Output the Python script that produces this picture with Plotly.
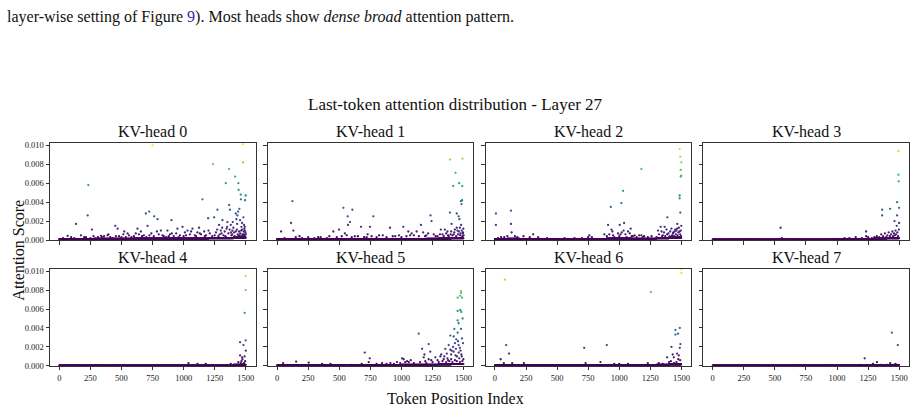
import plotly.graph_objects as go

# ---------------- data ----------------
heads = ["KV-head 0", "KV-head 1", "KV-head 2", "KV-head 3",
         "KV-head 4", "KV-head 5", "KV-head 6", "KV-head 7"]
x_ticks = [0, 250, 500, 750, 1000, 1250, 1500]
y_ticks = [0.000, 0.002, 0.004, 0.006, 0.008, 0.010]
seq_len = 1500
seg_size = 100

# estimated height of the dense near-zero band, one value per 100-token segment
band_h0 = [0.0001, 0.0001, 0.0001, 0.00012, 0.00012, 0.00012, 0.00015, 0.00015, 0.00015, 0.00015, 0.00015, 0.00015, 0.0002, 0.0002, 0.00025]
band_h1 = [0.0001, 0.0001, 0.0001, 0.0001, 0.0001, 0.0001, 0.0001, 0.0001, 0.0001, 0.0001, 0.0001, 0.0001, 0.00012, 0.00015, 0.0002]
band_h2 = [0.0001, 0.00012, 0.0001, 0.0001, 0.0001, 0.0001, 0.0001, 0.0001, 0.0001, 0.00015, 0.00015, 0.00012, 0.00012, 0.0002, 0.00025]
band_h3 = [0.00005, 0.00005, 0.00005, 0.00005, 0.00005, 0.00005, 0.00005, 0.00005, 0.00005, 0.00005, 0.00007, 0.0001, 0.0001, 0.00015, 0.0002]
band_h4 = [0.00003, 0.00003, 0.00003, 0.00003, 0.00003, 0.00003, 0.00003, 0.00003, 0.00003, 0.00003, 0.00003, 0.00003, 0.00003, 0.00003, 0.0001]
band_h5 = [0.00005, 0.00005, 0.00005, 0.00005, 0.00005, 0.00005, 0.00005, 0.00005, 0.00005, 0.00008, 0.0001, 0.0001, 0.00012, 0.00015, 0.0002]
band_h6 = [0.00005, 0.00005, 0.00005, 0.00005, 0.00005, 0.00005, 0.00005, 0.00005, 0.00005, 0.00005, 0.00005, 0.00005, 0.00005, 0.0001, 0.00015]
band_h7 = [0.00003, 0.00003, 0.00003, 0.00003, 0.00003, 0.00003, 0.00003, 0.00003, 0.00003, 0.00003, 0.00003, 0.00003, 0.00003, 0.00003, 0.00008]

# individually visible points: token positions and attention scores
h0_tok = [750, 233, 228, 134, 262, 67, 174, 450, 469, 522, 549, 335, 388, 629, 656, 696, 723, 763, 790, 710, 817, 870, 902, 950, 991, 1031, 1071, 1124, 1151, 1165, 1197, 1245, 1237, 1272, 1285, 1299, 1312, 1339, 1352, 1366, 1366, 1373, 1379, 1392, 1414, 1419, 1424, 1432, 1438, 1440, 1442, 1448, 1454, 1459, 1461, 1465, 1478, 1476, 1481, 1486, 1494, 1492, 1499, 1497,
          30, 95, 120, 150, 200, 290, 310, 360, 410, 430, 480, 500, 560, 580, 600, 640, 680, 700, 740, 760, 800, 840, 860, 890, 920, 940, 970, 1000, 1010, 1050, 1090, 1110, 1140, 1180, 1210, 1230, 1260, 1290, 1320, 1330, 1345, 1360, 1385, 1400, 1405, 1410, 1428, 1435, 1445, 1450, 1470, 1473, 1478, 1483, 1488, 1490, 1495, 1500, 1470, 1430, 1395, 1350, 1310,
          215, 250, 275, 345, 395, 455, 515, 535, 615, 665, 725, 785, 830, 880, 905, 960, 1020, 1060, 1100, 1130, 1170, 1200, 1250, 1280, 1305, 1335, 1370, 1390, 1420, 1440, 1455, 1462, 1468, 1485, 1493, 1380, 1340, 1270]
h0_val = [0.0100, 0.0058, 0.0026, 0.0017, 0.0011, 0.00045, 0.0005, 0.0015, 0.0012, 0.0009, 0.0007, 0.00045, 0.0005, 0.0012, 0.0009, 0.0028, 0.0030, 0.0025, 0.0022, 0.0015, 0.0010, 0.0010, 0.0021, 0.0012, 0.0014, 0.0010, 0.0012, 0.0013, 0.0043, 0.0009, 0.0023, 0.0024, 0.0080, 0.0032, 0.0016, 0.0010, 0.0021, 0.0060, 0.0019, 0.0075, 0.0037, 0.0032, 0.0016, 0.0010, 0.0067, 0.0028, 0.0022, 0.0026, 0.0030, 0.0060, 0.0053, 0.0033, 0.0021, 0.0048, 0.0043, 0.0014, 0.0082, 0.0101, 0.0024, 0.0016, 0.0042, 0.0014, 0.0047, 0.0008,
          0.0002, 0.0003, 0.0002, 0.0001, 0.0003, 0.0002, 0.0003, 0.0004, 0.0003, 0.0002, 0.0004, 0.0003, 0.0005, 0.0003, 0.0004, 0.0006, 0.0005, 0.0003, 0.0007, 0.0004, 0.0006, 0.0004, 0.0003, 0.0006, 0.0004, 0.0007, 0.0005, 0.0004, 0.0008, 0.0006, 0.0005, 0.0008, 0.0006, 0.0005, 0.0007, 0.0004, 0.0008, 0.0006, 0.0005, 0.0009, 0.0012, 0.0007, 0.0005, 0.0013, 0.0008, 0.0004, 0.0011, 0.0006, 0.0009, 0.0005, 0.0011, 0.0006, 0.0004, 0.0009, 0.0012, 0.0005, 0.0003, 0.0006, 0.0018, 0.0017, 0.0019, 0.0014, 0.0013,
          0.0003, 0.0002, 0.0004, 0.0003, 0.0006, 0.0004, 0.0006, 0.0003, 0.0007, 0.0004, 0.0005, 0.0009, 0.0005, 0.0004, 0.0007, 0.0003, 0.0005, 0.0009, 0.0004, 0.0007, 0.0004, 0.0010, 0.0005, 0.0004, 0.0007, 0.0004, 0.0011, 0.0006, 0.0009, 0.0004, 0.0007, 0.0010, 0.0004, 0.0006, 0.0010, 0.0008, 0.0003, 0.0011]

h1_tok = [123, 112, 131, 32, 533, 568, 605, 570, 586, 675, 747, 774, 452, 498, 560, 728, 908, 1015, 1055, 1082, 1122, 1157, 1175, 1234, 1242, 1317, 1349, 1390, 1491, 1435, 1416, 1464, 1489, 1390, 1478, 1488, 1483, 1445, 1460, 1466, 1480, 1403, 1430, 1420, 1470, 1495, 1375,
          60, 150, 200, 250, 300, 350, 400, 480, 520, 600, 650, 700, 760, 800, 850, 880, 950, 980, 1040, 1100, 1140, 1200, 1260, 1290, 1330, 1360, 1380, 1400, 1410, 1425, 1440, 1450, 1455, 1475, 1485, 1490, 1498, 1500,
          180, 330, 420, 545, 625, 720, 820, 930, 1000, 1070, 1190, 1215, 1275, 1310, 1340, 1370, 1395, 1445, 1462, 1472, 1493]
h1_val = [0.0041, 0.0018, 0.0010, 0.0009, 0.0034, 0.0025, 0.0032, 0.0016, 0.0019, 0.0014, 0.0014, 0.0025, 0.0009, 0.0011, 0.0005, 0.0006, 0.0013, 0.0014, 0.0009, 0.0007, 0.0009, 0.0016, 0.0008, 0.0026, 0.0020, 0.0011, 0.0011, 0.0085, 0.0086, 0.0071, 0.0057, 0.0060, 0.0057, 0.0029, 0.0041, 0.0042, 0.0038, 0.0028, 0.0025, 0.0022, 0.0016, 0.0017, 0.0011, 0.0006, 0.0013, 0.0008, 0.0005,
          0.0002, 0.0003, 0.0002, 0.0003, 0.0002, 0.0003, 0.0002, 0.0003, 0.0004, 0.0003, 0.0004, 0.0003, 0.0004, 0.0003, 0.0005, 0.0003, 0.0004, 0.0005, 0.0004, 0.0005, 0.0004, 0.0005, 0.0006, 0.0004, 0.0006, 0.0007, 0.0004, 0.0009, 0.0005, 0.0008, 0.0004, 0.0010, 0.0006, 0.0007, 0.0010, 0.0004, 0.0012, 0.0005,
          0.0004, 0.0003, 0.0004, 0.0007, 0.0004, 0.0003, 0.0005, 0.0004, 0.0003, 0.0005, 0.0004, 0.0007, 0.0004, 0.0006, 0.0004, 0.0009, 0.0006, 0.0013, 0.0009, 0.0005, 0.0007]

h2_tok = [8, 8, 129, 129, 134, 50, 100, 180, 230, 308, 348, 420, 560, 750, 760, 880, 910, 937, 932, 1017, 1031, 1004, 1039, 1071, 1092, 1124, 1178, 1178, 1312, 1333, 1365, 1387, 1446, 1467, 1486, 1491, 1499, 1494, 1494, 1499, 1486, 1486, 1491, 1499,
          900, 920, 950, 960, 990, 1000, 1020, 1050, 1060, 1100, 1140, 1160, 1200, 1230, 1260, 1300, 1320, 1340, 1350, 1360, 1370, 1380, 1395, 1405, 1410, 1420, 1425, 1435, 1440, 1450, 1455, 1460, 1470, 1475, 1480, 1490, 1495, 1497,
          25, 75, 160, 280, 640, 700, 780, 945, 1010, 1035, 1085, 1110, 1190, 1345, 1385, 1432, 1465, 1485]
h2_val = [0.0028, 0.0016, 0.0031, 0.0017, 0.0008, 0.0003, 0.0004, 0.0003, 0.0004, 0.0006, 0.0003, 0.0002, 0.0002, 0.0003, 0.0005, 0.0006, 0.0016, 0.0011, 0.0035, 0.0039, 0.0052, 0.0016, 0.0018, 0.0009, 0.0012, 0.0005, 0.0075, 0.0005, 0.0010, 0.0014, 0.0014, 0.0024, 0.0009, 0.0017, 0.0096, 0.0088, 0.0082, 0.0074, 0.0067, 0.0068, 0.0047, 0.0044, 0.0029, 0.0015,
          0.0004, 0.0006, 0.0005, 0.0003, 0.0007, 0.0004, 0.0008, 0.0006, 0.0003, 0.0004, 0.0003, 0.0005, 0.0004, 0.0003, 0.0004, 0.0003, 0.0006, 0.0009, 0.0005, 0.0008, 0.0004, 0.0011, 0.0007, 0.0004, 0.0009, 0.0012, 0.0005, 0.0008, 0.0004, 0.0011, 0.0006, 0.0010, 0.0005, 0.0008, 0.0013, 0.0006, 0.0010, 0.0004,
          0.0002, 0.0003, 0.0004, 0.0003, 0.0002, 0.0002, 0.0003, 0.0009, 0.0006, 0.0010, 0.0007, 0.0004, 0.0003, 0.0004, 0.0006, 0.0007, 0.0012, 0.0009]

h3_tok = [1494, 1494, 1496, 1483, 1499, 1363, 1427, 1363, 1483, 1462, 1499, 1480, 1470, 1234, 1234, 546, 556, 590,
          1200, 1250, 1280, 1300, 1320, 1340, 1355, 1370, 1385, 1395, 1405, 1415, 1425, 1435, 1445, 1450, 1458, 1465, 1475, 1485, 1490, 1497, 1100, 1000, 1150, 960, 1060]
h3_val = [0.0094, 0.0069, 0.0062, 0.0040, 0.0034, 0.0032, 0.0033, 0.0026, 0.0026, 0.0020, 0.0018, 0.0015, 0.0010, 0.0009, 0.0004, 0.0013, 0.0002, 0.0001,
          0.0002, 0.0003, 0.0002, 0.0003, 0.0004, 0.0003, 0.0006, 0.0004, 0.0007, 0.0003, 0.0005, 0.0008, 0.0004, 0.0006, 0.0009, 0.0004, 0.0007, 0.0005, 0.0006, 0.0008, 0.0004, 0.0011, 0.0002, 0.0001, 0.0003, 0.0001, 0.0002]

h4_tok = [1499, 1499, 1491, 1454, 1499, 1481, 1500, 1454, 1465, 1473, 1486, 1494, 1460, 1481, 1039, 1111, 1178, 1379, 1440, 1470, 1490]
h4_val = [0.0095, 0.0080, 0.0056, 0.0025, 0.0027, 0.0022, 0.0016, 0.0011, 0.0005, 0.0007, 0.0003, 0.0005, 0.0003, 0.0002, 0.0003, 0.0002, 0.0002, 0.0002, 0.0004, 0.0009, 0.0010]

h5_tok = [1479, 1479, 1473, 1452, 1487, 1452, 1473, 1481, 1492, 1452, 1460, 1425, 1479, 1452, 1393, 1420, 1441, 1487, 1495, 1380, 1353, 1393, 1420, 1460, 1447, 1313, 1340, 1273, 1139, 1219, 1166, 1232, 1179, 1192, 1219, 1005, 1018, 1045, 964, 705, 745, 737, 153, 48, 254, 362, 429, 844, 911,
          1300, 1330, 1360, 1370, 1385, 1400, 1410, 1430, 1435, 1445, 1465, 1470, 1485, 1490, 1498, 1250, 1200, 1150, 1100, 1060, 990, 940, 880, 800, 680, 600, 1415, 1470, 1430, 1400, 1460,
          1290, 1320, 1345, 1365, 1375, 1405, 1438, 1455, 1475, 1482, 1240, 1185, 1030, 1075]
h5_val = [0.0079, 0.0077, 0.0074, 0.0072, 0.0072, 0.0058, 0.0059, 0.0057, 0.0050, 0.0048, 0.0045, 0.0039, 0.0039, 0.0035, 0.0032, 0.0031, 0.0028, 0.0029, 0.0024, 0.0022, 0.0018, 0.0017, 0.0015, 0.0014, 0.0010, 0.0010, 0.0007, 0.0009, 0.0034, 0.0023, 0.0018, 0.0015, 0.0009, 0.0005, 0.0007, 0.0008, 0.0007, 0.0005, 0.0004, 0.0014, 0.0008, 0.0004, 0.00045, 0.0003, 0.00035, 0.0002, 0.0002, 0.0003, 0.0003,
          0.0004, 0.0005, 0.0004, 0.0008, 0.0005, 0.0007, 0.0004, 0.0006, 0.0011, 0.0005, 0.0008, 0.0004, 0.0010, 0.0005, 0.0007, 0.0004, 0.0003, 0.0004, 0.0003, 0.0004, 0.0003, 0.0002, 0.0002, 0.0002, 0.0002, 0.0001, 0.0020, 0.0019, 0.0024, 0.0012, 0.0022,
          0.0006, 0.0012, 0.0010, 0.0013, 0.0006, 0.0016, 0.0018, 0.0026, 0.0016, 0.0012, 0.0006, 0.0012, 0.0004, 0.0006]

h6_tok = [1500, 1500, 80, 1254, 91, 113, 46, 72, 139, 233, 718, 900, 729, 849, 960, 1000, 1070, 1230, 1318, 1452, 1487, 1452, 1473, 1492, 1420, 1487, 1479, 1385, 1439, 1475, 1415, 1440, 1400, 1460, 1490, 1350, 1465, 1430]
h6_val = [0.0102, 0.0098, 0.0091, 0.0078, 0.0022, 0.0013, 0.0007, 0.0003, 0.0003, 0.0003, 0.0019, 0.0022, 0.0003, 0.0004, 0.0002, 0.0002, 0.0002, 0.0003, 0.0003, 0.0038, 0.0040, 0.0033, 0.0034, 0.0023, 0.0020, 0.0019, 0.0011, 0.0009, 0.0009, 0.0007, 0.0005, 0.0003, 0.0004, 0.0004, 0.0006, 0.0002, 0.0013, 0.0012]

h7_tok = [1441, 1489, 1222, 1321, 1289, 1428, 1450, 1470, 1490, 1400, 1180, 1350]
h7_val = [0.0035, 0.0022, 0.0008, 0.0004, 0.0002, 0.0003, 0.0001, 0.0002, 0.0001, 0.0001, 0.0001, 0.0001]

bands = [band_h0, band_h1, band_h2, band_h3, band_h4, band_h5, band_h6, band_h7]
toks = [h0_tok, h1_tok, h2_tok, h3_tok, h4_tok, h5_tok, h6_tok, h7_tok]
vals = [h0_val, h1_val, h2_val, h3_val, h4_val, h5_val, h6_val, h7_val]

# ---------------- layout geometry (pixels) ----------------
W, H = 915, 415
col_px = [(50, 255.5), (267.8, 473.3), (485.6, 691.1), (703.4, 908.9)]
row_px = [(142.7, 241.7), (271.0, 370.0)]
c_min, c_max = 0.0, 0.0102
x_range = [-75, 1578]
y_range = [0, 0.01025]

serif = "Liberation Serif"
axcol = "#333333"

fig = go.Figure()
layout = dict(width=W, height=H, margin=dict(l=0, r=0, t=0, b=0),
              paper_bgcolor="white", plot_bgcolor="white", showlegend=False,
              font=dict(family=serif, color="#111111"))
annotations = []

for i, name in enumerate(heads):
    r, c = divmod(i, 4)
    xa = "x" if i == 0 else f"x{i+1}"
    ya = "y" if i == 0 else f"y{i+1}"
    # dense band near zero
    bt = list(range(0, seq_len, 2))
    by = [bands[i][t // seg_size] for t in bt]
    fig.add_trace(go.Scatter(x=bt, y=by, mode="markers", xaxis=xa, yaxis=ya,
                             marker=dict(size=2.2, color=by, colorscale="Viridis",
                                         cmin=c_min, cmax=c_max, line=dict(width=0)),
                             hoverinfo="skip"))
    fig.add_trace(go.Scatter(x=toks[i], y=vals[i], mode="markers", xaxis=xa, yaxis=ya,
                             marker=dict(size=2.3, color=vals[i], colorscale="Viridis",
                                         cmin=c_min, cmax=c_max, line=dict(width=0))))
    x0, x1 = col_px[c]
    y0, y1 = row_px[r]
    key_x = "xaxis" if i == 0 else f"xaxis{i+1}"
    key_y = "yaxis" if i == 0 else f"yaxis{i+1}"
    layout[key_x] = dict(domain=[x0 / W, x1 / W], range=x_range, anchor=ya,
                         tickvals=x_ticks, ticktext=[str(v) for v in x_ticks],
                         showticklabels=(r == 1), ticks="outside", ticklen=3.5,
                         tickwidth=0.8, tickcolor=axcol, showline=True, linecolor=axcol,
                         linewidth=1, mirror=True, showgrid=False, zeroline=False,
                         tickfont=dict(family=serif, size=8.5, color="#222222"))
    layout[key_y] = dict(domain=[1 - y1 / H, 1 - y0 / H], range=y_range, anchor=xa,
                         tickvals=y_ticks, ticktext=[f"{v:.3f}" for v in y_ticks],
                         showticklabels=(c == 0), ticks="outside", ticklen=3.5,
                         tickwidth=0.8, tickcolor=axcol, showline=True, linecolor=axcol,
                         linewidth=1, mirror=True, showgrid=False, zeroline=False,
                         tickfont=dict(family=serif, size=8.5, color="#222222"))
    annotations.append(dict(text=name, x=(x0 + x1) / 2 / W, y=1 - (y0 - 0.5) / H,
                            xref="paper", yref="paper", xanchor="center", yanchor="bottom",
                            showarrow=False, font=dict(family=serif, size=16, color="#111111")))

annotations.append(dict(text="Last-token attention distribution - Layer 27",
                        x=455 / W, y=1 - 104 / H, xref="paper", yref="paper",
                        xanchor="center", yanchor="middle", showarrow=False,
                        font=dict(family=serif, size=17, color="#111111")))
annotations.append(dict(text="Token Position Index", x=455.5 / W, y=1 - 403 / H,
                        xref="paper", yref="paper", xanchor="center", yanchor="middle",
                        showarrow=False, font=dict(family=serif, size=16, color="#111111")))
annotations.append(dict(text="Attention Score", x=18.5 / W, y=1 - 252 / H,
                        xref="paper", yref="paper", xanchor="center", yanchor="middle",
                        textangle=-90, showarrow=False,
                        font=dict(family=serif, size=16, color="#111111")))
annotations.append(dict(text="layer-wise setting of Figure <span style='color:#2b2bb0'>9</span>). "
                             "Most heads show <i>dense broad</i> attention pattern.",
                        x=5 / W, y=1 - 14 / H, xref="paper", yref="paper",
                        xanchor="left", yanchor="middle", showarrow=False,
                        font=dict(family=serif, size=16, color="#111111")))
layout["annotations"] = annotations
fig.update_layout(**layout)
fig.write_html("out.html")
